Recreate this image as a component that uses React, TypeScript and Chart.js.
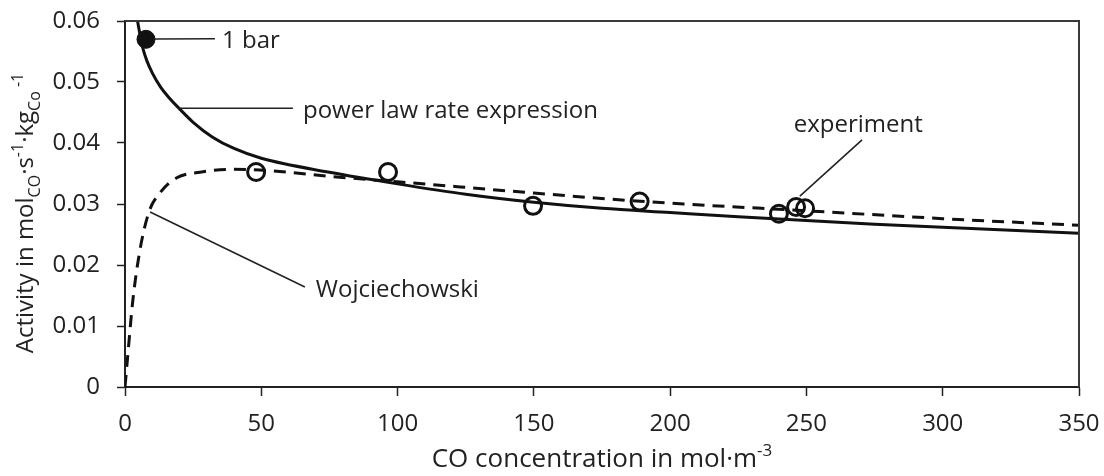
import React, { useEffect, useRef } from "react";
import { Chart, registerables } from "chart.js";

Chart.register(...registerables);

const FONT = "'Open Sans', sans-serif";
const FONT_SIZE = 24;
const X_TITLE_SIZE = 26;
const INK = "#222222";

// Axis ticks
const xTicks = [0, 50, 100, 150, 200, 250, 300, 350];
const xTickLabels = ["0", "50", "100", "150", "200", "250", "300", "350"];
const yTicks = [0, 0.01, 0.02, 0.03, 0.04, 0.05, 0.06];
const yTickLabels = ["0", "0.01", "0.02", "0.03", "0.04", "0.05", "0.06"];

// Power law rate expression (solid)
const powerLawX = [4.0, 4.6, 5.5, 6.7, 8, 10, 13, 16, 20, 25, 32, 40, 50, 75, 100, 125, 150, 175, 200, 225, 250, 275, 300, 325, 350];
const powerLawY = [0.0615, 0.06, 0.0578, 0.0553, 0.0535, 0.0515, 0.0492, 0.0475, 0.0456, 0.0434, 0.0410, 0.0391, 0.0375, 0.0352, 0.0333, 0.0316, 0.0303, 0.0293, 0.0286, 0.0279, 0.0273, 0.0267, 0.0262, 0.0257, 0.0252];

// Wojciechowski (dashed)
const wojX = [0, 1.1, 2.9, 5.5, 8.8, 12.8, 19, 27.5, 39.6, 52, 76, 101, 123, 150, 178, 205, 229, 265, 300, 350];
const wojY = [0, 0.0056, 0.0143, 0.0225, 0.0287, 0.0318, 0.0343, 0.0352, 0.0357, 0.0355, 0.0345, 0.0336, 0.0328, 0.0318, 0.0308, 0.0300, 0.0294, 0.0285, 0.0276, 0.0265];

// Experiment (open circles)
const expX = [48.1, 96.5, 149.7, 188.8, 239.9, 246.2, 249.5];
const expY = [0.03525, 0.03525, 0.0297, 0.0304, 0.0284, 0.0295, 0.0293];

// 1 bar (filled point)
const oneBarX = [7.7];
const oneBarY = [0.057];

// Annotation labels
const annotationTexts = ["1 bar", "power law rate expression", "experiment", "Wojciechowski"];

type Seg = { t: string; k: "n" | "sub" | "sup" };

const yTitle: Seg[] = [
  { t: "Activity in mol", k: "n" },
  { t: "CO", k: "sub" },
  { t: "·s", k: "n" },
  { t: "-1", k: "sup" },
  { t: "·kg", k: "n" },
  { t: "Co", k: "sub" },
  { t: " -1", k: "sup" },
];
const xTitle: Seg[] = [
  { t: "CO concentration in mol·m", k: "n" },
  { t: "-3", k: "sup" },
];

function segFont(k: string, size: number) {
  const s = k === "n" ? size : Math.round(size * 0.65);
  return `${s}px ${FONT}`;
}

function drawRich(ctx: CanvasRenderingContext2D, segs: Seg[], cx: number, baseY: number, size: number) {
  let total = 0;
  const widths: number[] = [];
  for (const s of segs) {
    ctx.font = segFont(s.k, size);
    const w = ctx.measureText(s.t).width;
    widths.push(w);
    total += w;
  }
  let x = cx - total / 2;
  ctx.textAlign = "left";
  ctx.textBaseline = "alphabetic";
  segs.forEach((s, i) => {
    ctx.font = segFont(s.k, size);
    const dy = s.k === "sub" ? size * 0.28 : s.k === "sup" ? -size * 0.42 : 0;
    ctx.fillText(s.t, x, baseY + dy);
    x += widths[i];
  });
}

type Ann = { text: string; from: [number, number]; to: [number, number]; at: [number, number]; align: CanvasTextAlign };

const annotations: Ann[] = [
  { text: annotationTexts[0], from: [11.0, 0.05705], to: [33.0, 0.0571], at: [35.6, 0.0556], align: "left" },
  { text: annotationTexts[1], from: [19.8, 0.0457], to: [61.6, 0.0457], at: [65.3, 0.0441], align: "left" },
  { text: annotationTexts[2], from: [247.6, 0.0313], to: [270.4, 0.0405], at: [269.0, 0.0418], align: "center" },
  { text: annotationTexts[3], from: [9.2, 0.0287], to: [66.0, 0.0164], at: [70.0, 0.01475], align: "left" },
];

const decorPlugin = {
  id: "decor",
  afterDatasetsDraw(chart: any) {
    const ctx: CanvasRenderingContext2D = chart.ctx;
    const xs = chart.scales.x;
    const ys = chart.scales.y;
    const area = chart.chartArea;
    ctx.save();
    // frame top & right
    ctx.strokeStyle = "#3a3a3a";
    ctx.lineWidth = 2;
    ctx.beginPath();
    ctx.moveTo(area.left, area.top);
    ctx.lineTo(area.right, area.top);
    ctx.lineTo(area.right, area.bottom);
    ctx.stroke();
    // annotations
    ctx.strokeStyle = INK;
    ctx.lineWidth = 1.6;
    ctx.fillStyle = INK;
    for (const a of annotations) {
      ctx.beginPath();
      ctx.moveTo(xs.getPixelForValue(a.from[0]), ys.getPixelForValue(a.from[1]));
      ctx.lineTo(xs.getPixelForValue(a.to[0]), ys.getPixelForValue(a.to[1]));
      ctx.stroke();
      ctx.font = `${FONT_SIZE}px ${FONT}`;
      ctx.textAlign = a.align;
      ctx.textBaseline = "alphabetic";
      ctx.fillText(a.text, xs.getPixelForValue(a.at[0]), ys.getPixelForValue(a.at[1]));
    }
    // axis titles
    ctx.fillStyle = INK;
    drawRich(ctx, xTitle, (area.left + area.right) / 2, 467, X_TITLE_SIZE);
    ctx.save();
    ctx.translate(33, 213);
    ctx.rotate(-Math.PI / 2);
    drawRich(ctx, yTitle, 0, 0, FONT_SIZE);
    ctx.restore();
    ctx.restore();
  },
};

export default function App() {
  const ref = useRef<HTMLCanvasElement | null>(null);
  useEffect(() => {
    if (!ref.current) return;
    const chart = new Chart(ref.current, {
      type: "scatter",
      data: {
        datasets: [
          {
            label: "1 bar",
            data: oneBarX.map((x, i) => ({ x, y: oneBarY[i] })),
            showLine: false,
            pointRadius: 9,
            pointBackgroundColor: "#111",
            pointBorderColor: "#111",
            pointBorderWidth: 1,
          },
          {
            label: "experiment",
            data: expX.map((x, i) => ({ x, y: expY[i] })),
            showLine: false,
            pointRadius: 8.5,
            pointBackgroundColor: "rgba(0,0,0,0)",
            pointBorderColor: "#111",
            pointBorderWidth: 3,
          },
          {
            label: "power law rate expression",
            data: powerLawX.map((x, i) => ({ x, y: powerLawY[i] })),
            showLine: true,
            pointRadius: 0,
            borderColor: "#111",
            borderWidth: 3,
            cubicInterpolationMode: "monotone",
          },
          {
            label: "Wojciechowski",
            data: wojX.map((x, i) => ({ x, y: wojY[i] })),
            showLine: true,
            pointRadius: 0,
            borderColor: "#111",
            borderWidth: 3,
            borderDash: [12, 8],
            cubicInterpolationMode: "monotone",
          },
        ],
      },
      options: {
        responsive: false,
        animation: false,
        events: [],
        layout: { padding: { left: 0, top: 21, right: 25, bottom: 0 } },
        plugins: { legend: { display: false }, tooltip: { enabled: false } },
        scales: {
          x: {
            type: "linear",
            min: 0,
            max: 350,
            afterBuildTicks: (s: any) => {
              s.ticks = xTicks.map((v) => ({ value: v }));
            },
            afterFit: (s: any) => {
              s.height = 89;
              s.paddingLeft = 0;
              s.paddingRight = 0;
            },
            ticks: {
              callback: (v: any) => xTickLabels[xTicks.indexOf(Number(v))] ?? "",
              font: { family: FONT, size: FONT_SIZE },
              color: INK,
              padding: 14,
              maxRotation: 0,
            },
            grid: { drawOnChartArea: false, drawTicks: true, tickLength: 9, tickWidth: 1.5, tickColor: "#222" },
            border: { color: "#222", width: 2 },
          },
          y: {
            type: "linear",
            min: 0,
            max: 0.06,
            afterBuildTicks: (s: any) => {
              s.ticks = yTicks.map((v) => ({ value: v }));
            },
            afterFit: (s: any) => {
              s.width = 125;
              s.paddingTop = 0;
              s.paddingBottom = 0;
            },
            ticks: {
              callback: (v: any) => {
                const i = yTicks.findIndex((t) => Math.abs(t - Number(v)) < 1e-9);
                return i >= 0 ? yTickLabels[i] : "";
              },
              font: { family: FONT, size: FONT_SIZE },
              color: INK,
              padding: 17,
            },
            grid: { drawOnChartArea: false, drawTicks: true, tickLength: 8, tickWidth: 1.5, tickColor: "#222" },
            border: { color: "#222", width: 2 },
          },
        },
      },
      plugins: [decorPlugin],
    } as any);
    return () => chart.destroy();
  }, []);
  return (
    <div style={{ position: "absolute", left: 0, top: 0, width: 1104, height: 476, background: "#fff" }}>
      <canvas ref={ref} width={1104} height={476} style={{ display: "block" }} />
    </div>
  );
}
